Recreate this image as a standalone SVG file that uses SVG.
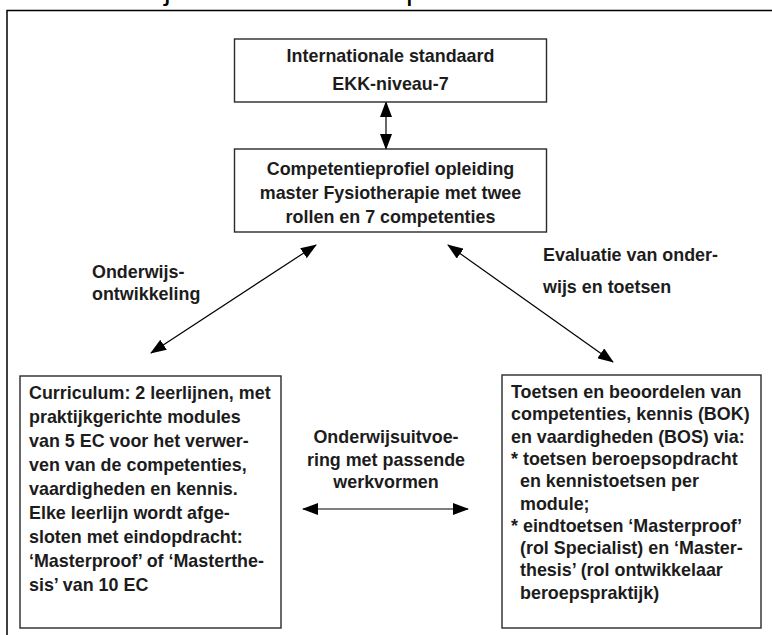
<svg xmlns="http://www.w3.org/2000/svg" width="772" height="635" viewBox="0 0 772 635">
<defs>
<style>
.t{font-family:"Liberation Sans",Arial,sans-serif;font-size:17.9px;font-weight:bold;fill:#1c1c1c}
.c{text-anchor:middle}
.box{fill:#fff;stroke:#2a2a2a;stroke-width:1.4}
.ln{stroke:#000;stroke-width:1.2;fill:none;marker-start:url(#ah);marker-end:url(#ah)}
.cap{font-family:"Liberation Sans",Arial,sans-serif;font-size:30px;fill:#000}
</style>
<marker id="ah" viewBox="0 0 16 12" refX="15" refY="6" markerWidth="16" markerHeight="12" markerUnits="userSpaceOnUse" orient="auto-start-reverse">
<path d="M0,0 L16,6 L0,12 Z" fill="#000"/>
</marker>
</defs>
<rect width="772" height="635" fill="#fff"/>
<text class="cap" x="164" y="0">j</text>
<text class="cap" x="406" y="0">p</text>
<rect x="7" y="10.5" width="800" height="700" fill="none" stroke="#000" stroke-width="1.5"/>
<g id="connectors">
<line class="ln" x1="386" y1="102" x2="386" y2="149"/>
<line class="ln" x1="316" y1="245" x2="151" y2="353"/>
<line class="ln" x1="448" y1="245" x2="613" y2="362"/>
<line class="ln" x1="303" y1="509" x2="468" y2="509"/>
<text class="t" x="92" y="278">Onderwijs-</text>
<text class="t" x="92" y="300">ontwikkeling</text>
<text class="t" x="543" y="261">Evaluatie van onder-</text>
<text class="t" x="543" y="293">wijs en toetsen</text>
<text class="t c" x="386" y="443">Onderwijsuitvoe-</text>
<text class="t c" x="386" y="466">ring met passende</text>
<text class="t c" x="386" y="488">werkvormen</text>
</g>
<g id="standaard">
<rect class="box" x="234.5" y="39" width="312" height="63"/>
<text class="t c" x="390.5" y="62">Internationale standaard</text>
<text class="t c" x="390.5" y="90">EKK-niveau-7</text>
</g>
<g id="profiel">
<rect class="box" x="234.5" y="149" width="312" height="83"/>
<text class="t c" x="390.5" y="175">Competentieprofiel opleiding</text>
<text class="t c" x="390.5" y="199">master Fysiotherapie met twee</text>
<text class="t c" x="390.5" y="223">rollen en 7 competenties</text>
</g>
<g id="curriculum">
<rect class="box" x="20" y="376" width="261" height="252"/>
<text class="t" x="29" y="399">Curriculum: 2 leerlijnen, met</text>
<text class="t" x="29" y="423">praktijkgerichte modules</text>
<text class="t" x="29" y="447">van 5 EC voor het verwer-</text>
<text class="t" x="29" y="471">ven van de competenties,</text>
<text class="t" x="29" y="495">vaardigheden en kennis.</text>
<text class="t" x="29" y="519">Elke leerlijn wordt afge-</text>
<text class="t" x="29" y="543">sloten met eindopdracht:</text>
<text class="t" x="29" y="567">‘Masterproof’ of ‘Masterthe-</text>
<text class="t" x="29" y="591">sis’ van 10 EC</text>
</g>
<g id="toetsen">
<rect class="box" x="502" y="375" width="259" height="253"/>
<text class="t" x="511" y="398">Toetsen en beoordelen van</text>
<text class="t" x="511" y="420.3">competenties, kennis (BOK)</text>
<text class="t" x="511" y="442.6">en vaardigheden (BOS) via:</text>
<text class="t" x="511" y="464.9">* toetsen beroepsopdracht</text>
<text class="t" x="520" y="487.2">en kennistoetsen per</text>
<text class="t" x="520" y="509.5">module;</text>
<text class="t" x="511" y="531.8">* eindtoetsen ‘Masterproof’</text>
<text class="t" x="520" y="554.1">(rol Specialist) en ‘Master-</text>
<text class="t" x="520" y="576.4">thesis’ (rol ontwikkelaar</text>
<text class="t" x="520" y="598.7">beroepspraktijk)</text>
</g>
</svg>
